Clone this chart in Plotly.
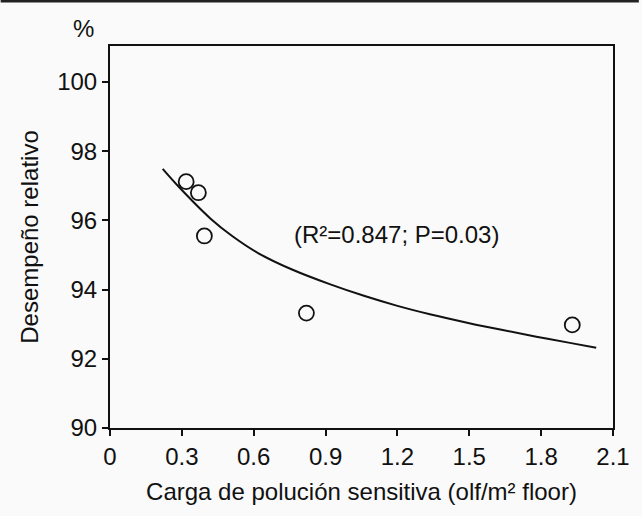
import plotly.graph_objects as go

# Observed points
load_x = [0.318, 0.369, 0.394, 0.820, 1.930]
perf_y = [97.12, 96.80, 95.55, 93.32, 92.98]

# Fitted curve
fit_x = [0.22, 0.29, 0.42, 0.51, 0.62, 0.76, 0.92, 1.06, 1.20, 1.34, 1.50, 1.64, 1.78, 1.92, 2.03]
fit_y = [97.49, 96.95, 96.05, 95.55, 95.05, 94.58, 94.15, 93.82, 93.53, 93.28, 93.03, 92.83, 92.64, 92.46, 92.32]

x_ticks = [0, 0.3, 0.6, 0.9, 1.2, 1.5, 1.8, 2.1]
x_tick_text = ["0", "0.3", "0.6", "0.9", "1.2", "1.5", "1.8", "2.1"]
y_ticks = [90, 92, 94, 96, 98, 100]

FONT = "Liberation Sans, Arial, sans-serif"

fig = go.Figure()
fig.add_trace(go.Scatter(
    x=fit_x, y=fit_y, mode="lines",
    line=dict(color="#111111", width=2, shape="spline", smoothing=1.0),
    showlegend=False, hoverinfo="skip"))
fig.add_trace(go.Scatter(
    x=load_x, y=perf_y, mode="markers",
    marker=dict(symbol="circle-open", size=15, color="#111111", line=dict(width=1.8)),
    showlegend=False))

fig.add_annotation(x=0.76, y=95.58, xref="x", yref="y", xanchor="left", yanchor="middle",
                   text="(R²=0.847; P=0.03)", showarrow=False,
                   font=dict(family=FONT, size=24, color="#111111"))
fig.add_annotation(x=(83 - 110) / 506, y=1 + (46 - 28) / 382, xref="paper", yref="paper",
                   text="%", showarrow=False, xanchor="center", yanchor="middle",
                   font=dict(family=FONT, size=24, color="#111111"))

fig.update_layout(
    width=642, height=516,
    margin=dict(l=110, r=26, t=46, b=88),
    paper_bgcolor="#fafafa", plot_bgcolor="#fafafa",
    font=dict(family=FONT, size=24, color="#111111"),
    xaxis=dict(range=[0, 2.1], tickvals=x_ticks, ticktext=x_tick_text,
               showgrid=False, zeroline=False, showline=True, linecolor="#111111",
               linewidth=2, mirror=True, ticks="outside", ticklen=6, tickwidth=1.5,
               tickcolor="#111111",
               title=dict(text="Carga de polución sensitiva (olf/m² floor)",
                          font=dict(family=FONT, size=24), standoff=14)),
    yaxis=dict(range=[90, 101.04], tickvals=y_ticks,
               showgrid=False, zeroline=False, showline=True, linecolor="#111111",
               linewidth=2, mirror=True, ticks="outside", ticklen=6, tickwidth=1.5,
               tickcolor="#111111",
               title=dict(text="Desempeño relativo", font=dict(family=FONT, size=24), standoff=12)),
)
fig.add_shape(type="line", xref="paper", yref="paper",
              x0=-110 / 506, x1=1 + 26 / 506, y0=1 + 45 / 382, y1=1 + 45 / 382,
              line=dict(color="#222222", width=3))

fig.write_html("out.html")
